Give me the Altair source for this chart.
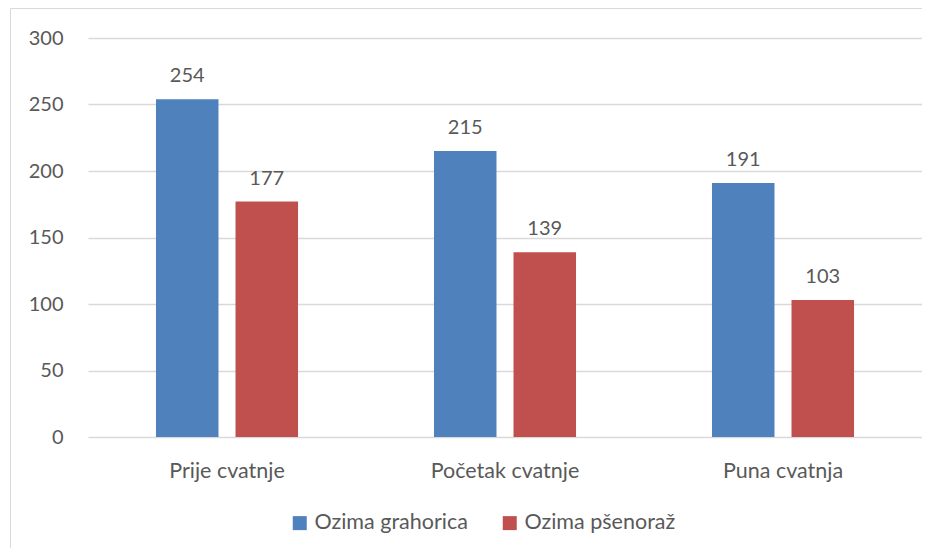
import altair as alt
import pandas as pd

categories = ["Prije cvatnje", "Početak cvatnje", "Puna cvatnja"]
series = ["Ozima grahorica", "Ozima pšenoraž"]
grahorica = [254, 215, 191]
psenoraz = [177, 139, 103]
colors = ["#4F81BD", "#C0504D"]

rows = []
for i, c in enumerate(categories):
    rows.append({"faza": c, "vrsta": series[0], "vrijednost": grahorica[i]})
    rows.append({"faza": c, "vrsta": series[1], "vrijednost": psenoraz[i]})
df = pd.DataFrame(rows)

FONT = "Lato"
TXT = "#595959"
NUM = 20
LAB = 21.5

x = alt.X("faza:N", sort=categories, title=None,
          scale=alt.Scale(paddingInner=0.489, paddingOuter=0.2445),
          axis=alt.Axis(labelAngle=0, ticks=False, domain=False, grid=False,
                        labelBaseline="alphabetic", labelPadding=40,
                        labelFont=FONT, labelFontSize=LAB, labelColor=TXT))
xo = alt.XOffset("vrsta:N", sort=series,
                 scale=alt.Scale(paddingInner=0.214, paddingOuter=0))
y = alt.Y("vrijednost:Q", title=None,
          scale=alt.Scale(domain=[0, 300], nice=False),
          axis=alt.Axis(values=[0, 50, 100, 150, 200, 250, 300], ticks=False,
                        domain=False, grid=True, gridColor="#D9D9D9", gridWidth=1.3,
                        labelPadding=25, labelFont=FONT, labelFontSize=NUM,
                        labelColor=TXT))
color = alt.Color("vrsta:N", sort=series,
                  scale=alt.Scale(domain=series, range=colors),
                  legend=alt.Legend(title=None, orient="none", direction="horizontal",
                                    legendX=201, legendY=474,
                                    symbolType="square", symbolSize=196,
                                    symbolStrokeWidth=0, symbolOpacity=1,
                                    labelFont=FONT, labelFontSize=LAB, labelColor=TXT,
                                    labelOffset=4, columnPadding=31))

base = alt.Chart(df)
bars = base.mark_bar(opacity=1).encode(x=x, xOffset=xo, y=y, color=color)
labels = base.mark_text(baseline="alphabetic", dy=-17, font=FONT, fontSize=NUM,
                        color=TXT).encode(
    x=alt.X("faza:N", sort=categories),
    xOffset=alt.XOffset("vrsta:N", sort=series),
    y="vrijednost:Q",
    text="vrijednost:Q")

border = alt.Chart(alt.Data(values=[{"b": 1}])).mark_rect(
    fill=None, stroke="#D9D9D9", strokeWidth=1).encode(
    x=alt.value(-77.5), x2=alt.value(1200), y=alt.value(-29.5), y2=alt.value(800))

chart = alt.layer(border, bars, labels).properties(
    width=834, height=399,
    autosize=alt.AutoSizeParams(type="none"),
    padding={"left": 80, "top": 30, "right": 0, "bottom": 111},
    background="white",
).configure_view(stroke=None)

chart.save("out.html", embed_options={"renderer": "svg", "actions": False})
